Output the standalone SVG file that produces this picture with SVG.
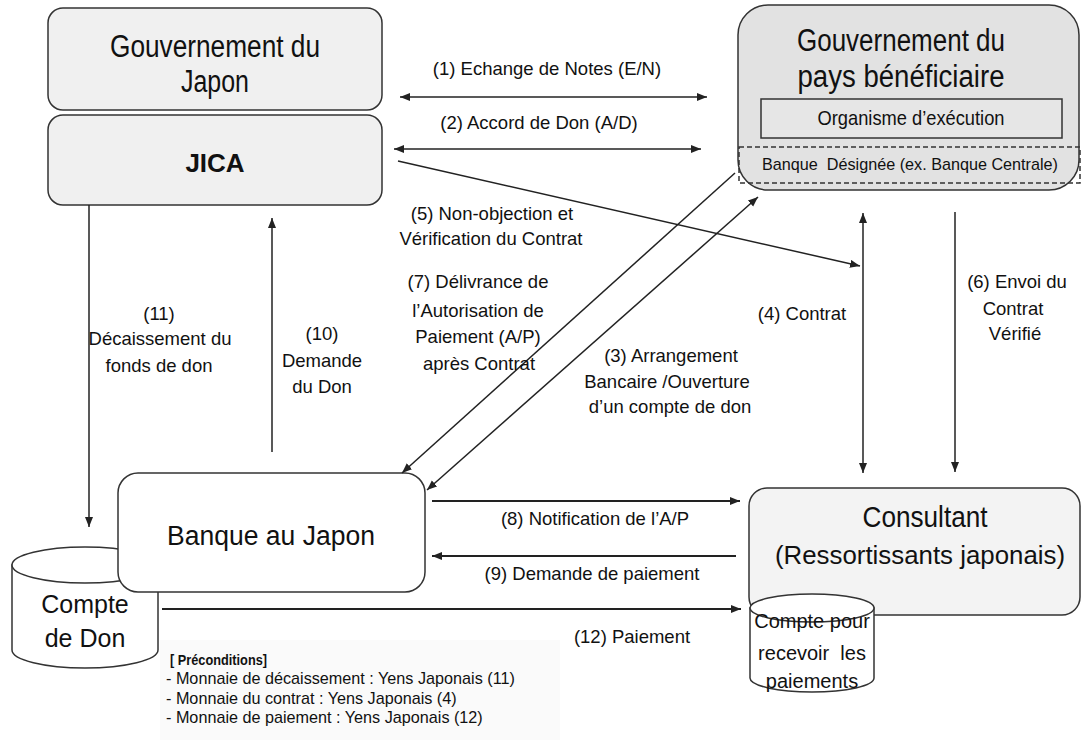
<svg xmlns="http://www.w3.org/2000/svg" width="1081" height="740" viewBox="0 0 1081 740">
<style>
text{font-family:"Liberation Sans",Arial,sans-serif;fill:#111;}
.big{font-size:30px;text-anchor:middle;}
.gov{font-size:31px;text-anchor:middle;}
.lbl{font-size:18.5px;text-anchor:middle;}
.pre{font-size:16.2px;}
.box{stroke:#333;stroke-width:1.5;}
.light{fill:#f0f0f0;}
.dark{fill:#e2e2e2;}
.line{stroke:#222;stroke-width:1.5;fill:none;}
.hline{stroke:#222;stroke-width:2;fill:none;}
</style>
<defs>
<marker id="ah" markerUnits="userSpaceOnUse" markerWidth="11" markerHeight="9" refX="10" refY="4" orient="auto-start-reverse" viewBox="0 0 11 9">
<path d="M0,0 L10,4 L0,8 Z" fill="#222"/>
</marker>
</defs>
<rect x="0" y="0" width="1081" height="740" fill="#ffffff"/>
<rect x="160" y="640" width="400" height="100" fill="#fafafa"/>

<g id="gov-japon">
<rect class="box light" x="48" y="8" width="334" height="102" rx="15"/>
<text class="gov" x="215" y="57" textLength="210" lengthAdjust="spacingAndGlyphs">Gouvernement du</text>
<text class="gov" x="215" y="92" textLength="68" lengthAdjust="spacingAndGlyphs">Japon</text>
</g>
<g id="jica">
<rect class="box light" x="48" y="115" width="334" height="90" rx="15"/>
<text x="215" y="172" style="font-size:26px;font-weight:bold;text-anchor:middle">JICA</text>
</g>
<g id="gov-beneficiaire">
<rect class="box dark" x="738" y="5" width="341" height="185" rx="30"/>
<text class="gov" x="901" y="51" textLength="208" lengthAdjust="spacingAndGlyphs">Gouvernement du</text>
<text class="gov" x="901" y="87" textLength="207" lengthAdjust="spacingAndGlyphs">pays bénéficiaire</text>
<rect x="761" y="99" width="301" height="39" fill="#e6e6e6" stroke="#333" stroke-width="1.5"/>
<text x="911" y="125" style="font-size:21px;text-anchor:middle" textLength="187" lengthAdjust="spacingAndGlyphs">Organisme d’exécution</text>
<rect x="739" y="147" width="341" height="36" fill="none" stroke="#333" stroke-width="1.5" stroke-dasharray="5 3"/>
<text x="910" y="170" style="font-size:17px;text-anchor:middle;white-space:pre" textLength="296" lengthAdjust="spacingAndGlyphs">Banque  Désignée (ex. Banque Centrale)</text>
</g>

<g id="compte-don">
<path d="M12,565 L12,650 A73,18 0 0 0 158,650 L158,565 Z" fill="#fff" stroke="#333" stroke-width="1.5"/>
<ellipse cx="85" cy="565" rx="73" ry="18" fill="#fff" stroke="#333" stroke-width="1.5"/>
<text x="85" y="613" style="font-size:25px;text-anchor:middle">Compte</text>
<text x="85" y="647" style="font-size:25px;text-anchor:middle">de Don</text>
</g>
<g id="banque-japon">
<rect class="box" fill="#fff" x="118" y="473" width="307" height="119" rx="20"/>
<text class="big" x="271" y="545" style="font-size:27px" textLength="208" lengthAdjust="spacingAndGlyphs">Banque au Japon</text>
</g>
<g id="consultant">
<rect class="box" fill="#f3f3f3" x="749" y="488" width="331" height="127" rx="18"/>
<text class="big" x="925" y="527" textLength="125" lengthAdjust="spacingAndGlyphs">Consultant</text>
<text class="big" x="920" y="564" style="font-size:26px" textLength="290" lengthAdjust="spacingAndGlyphs">(Ressortissants japonais)</text>
</g>
<g id="compte-paiements">
<path d="M750,608 L750,678 A62,14 0 0 0 874,678 L874,608 Z" fill="#fff" stroke="#333" stroke-width="1.5"/>
<ellipse cx="812" cy="608" rx="62" ry="14" fill="#fff" stroke="#333" stroke-width="1.5"/>
<text x="812" y="628" style="font-size:20px;text-anchor:middle">Compte pour</text>
<text x="812" y="660" style="font-size:20px;text-anchor:middle;white-space:pre">recevoir  les</text>
<text x="812" y="688" style="font-size:20px;text-anchor:middle">paiements</text>
</g>

<g id="connectors">
<line class="line" x1="400" y1="97" x2="707" y2="97" marker-start="url(#ah)" marker-end="url(#ah)"/>
<line class="line" x1="394" y1="149" x2="701" y2="149" marker-start="url(#ah)" marker-end="url(#ah)"/>
<line class="line" x1="398" y1="161" x2="860" y2="266" marker-end="url(#ah)"/>
<line class="line" x1="735" y1="173" x2="402" y2="473" marker-end="url(#ah)"/>
<line class="line" x1="758" y1="197" x2="427" y2="490" marker-start="url(#ah)" marker-end="url(#ah)"/>
<line class="line" x1="863" y1="213" x2="863" y2="473" marker-start="url(#ah)" marker-end="url(#ah)"/>
<line class="line" x1="955" y1="212" x2="955" y2="472" marker-end="url(#ah)"/>
<line class="line" x1="272" y1="452" x2="272" y2="218" marker-end="url(#ah)"/>
<line class="line" x1="89" y1="205" x2="89" y2="527" marker-end="url(#ah)"/>
<line class="hline" x1="432" y1="501" x2="740" y2="501" marker-end="url(#ah)"/>
<line class="hline" x1="736" y1="556" x2="432" y2="556" marker-end="url(#ah)"/>
<line class="hline" x1="162" y1="609" x2="741" y2="609" marker-end="url(#ah)"/>
</g>

<g id="labels">
<text class="lbl" x="547" y="75">(1) Echange de Notes (E/N)</text>
<text class="lbl" x="539" y="129">(2) Accord de Don (A/D)</text>
<text class="lbl" x="492" y="220">(5) Non-objection et</text>
<text class="lbl" x="491" y="245">Vérification du Contrat</text>
<text class="lbl" x="478" y="288">(7) Délivrance de</text>
<text class="lbl" x="478" y="317">l’Autorisation de</text>
<text class="lbl" x="478" y="343">Paiement (A/P)</text>
<text class="lbl" x="479" y="370">après Contrat</text>
<text class="lbl" x="671" y="362">(3) Arrangement</text>
<text class="lbl" x="667" y="388">Bancaire /Ouverture</text>
<text class="lbl" x="670" y="413">d’un compte de don</text>
<text class="lbl" x="802" y="320">(4) Contrat</text>
<text class="lbl" x="1017" y="288">(6) Envoi du</text>
<text class="lbl" x="1013" y="315">Contrat</text>
<text class="lbl" x="1015" y="340">Vérifié</text>
<text class="lbl" x="159" y="320">(11)</text>
<text class="lbl" x="160" y="345">Décaissement du</text>
<text class="lbl" x="159" y="372">fonds de don</text>
<text class="lbl" x="322" y="340">(10)</text>
<text class="lbl" x="322" y="367">Demande</text>
<text class="lbl" x="322" y="393">du Don</text>
<text class="lbl" x="595" y="525">(8) Notification de l’A/P</text>
<text class="lbl" x="592" y="580">(9) Demande de paiement</text>
<text class="lbl" x="632" y="643">(12) Paiement</text>
</g>

<g id="preconditions">
<text x="170" y="665" style="font-size:15px;font-weight:bold" textLength="97" lengthAdjust="spacingAndGlyphs">[ Préconditions]</text>
<text class="pre" x="166" y="684">- Monnaie de décaissement : Yens Japonais (11)</text>
<text class="pre" x="166" y="704">- Monnaie du contrat : Yens Japonais (4)</text>
<text class="pre" x="166" y="723">- Monnaie de paiement : Yens Japonais (12)</text>
</g>
</svg>
